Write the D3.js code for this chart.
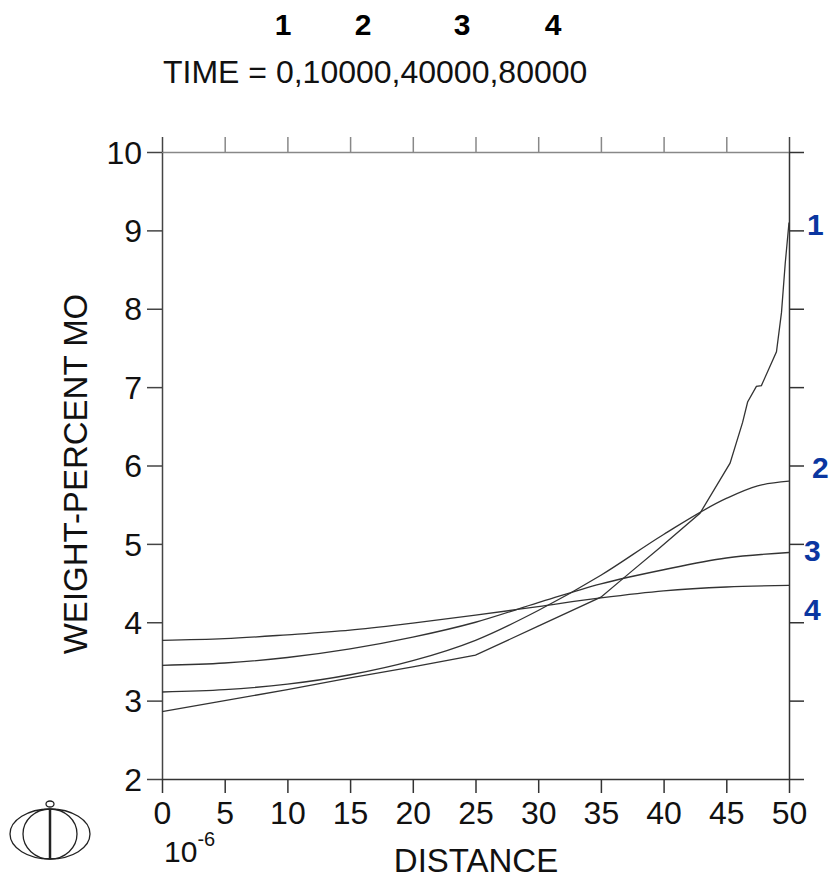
<!DOCTYPE html>
<html>
<head>
<meta charset="utf-8">
<script src="https://cdn.jsdelivr.net/npm/d3@7"></script>
<style>
  html, body { margin: 0; padding: 0; background: #fff; }
  svg { display: block; }
  text { font-family: "Liberation Sans", Arial, sans-serif; }
</style>
</head>
<body>
<svg id="chart" width="835" height="878"></svg>
<script>
// ---- data ----
const titleText = "TIME = 0,10000,40000,80000";
const curveIds = ["1", "2", "3", "4"];
const xTicks = [0, 5, 10, 15, 20, 25, 30, 35, 40, 45, 50];
const yTicks = [2, 3, 4, 5, 6, 7, 8, 9, 10];
const xLabel = "DISTANCE";
const yLabel = "WEIGHT-PERCENT MO";

// curve 1: time 0
const dist1 = [0, 5, 10, 15, 20, 25, 30, 35, 37.3, 39.7, 42.9, 45.3, 46.3, 46.7, 47.4, 47.8, 49.0, 49.4, 49.7, 50];
const conc1 = [2.86, 3.00, 3.14, 3.29, 3.43, 3.58, 3.95, 4.32, 4.63, 4.95, 5.39, 6.03, 6.55, 6.81, 7.01, 7.02, 7.45, 7.95, 8.58, 9.10];
// curve 2: time 10000
const dist2 = [0, 5, 10, 15, 20, 25, 30, 35, 40, 45, 47.5, 50];
const conc2 = [3.11, 3.14, 3.21, 3.33, 3.51, 3.77, 4.15, 4.60, 5.12, 5.58, 5.74, 5.80];
// curve 3: time 40000
const dist3 = [0, 5, 10, 15, 20, 25, 30, 35, 40, 45, 50];
const conc3 = [3.45, 3.48, 3.55, 3.66, 3.81, 4.00, 4.25, 4.49, 4.67, 4.82, 4.89];
// curve 4: time 80000
const dist4 = [0, 5, 10, 15, 20, 25, 30, 35, 40, 45, 50];
const conc4 = [3.77, 3.79, 3.84, 3.90, 3.99, 4.09, 4.20, 4.31, 4.40, 4.45, 4.47];

// ---- drawing ----
const svg = d3.select("#chart");
const x = d3.scaleLinear().domain([0, 50]).range([162, 789]);
const y = d3.scaleLinear().domain([2, 10]).range([779, 152]);
const FONT = "\"Liberation Sans\", Arial, sans-serif";

// top title numbers
const topNumX = [283, 363, 462, 553];
svg.selectAll("text.topnum").data(curveIds).enter().append("text")
  .attr("class", "topnum")
  .attr("x", (d, i) => topNumX[i]).attr("y", 35)
  .attr("text-anchor", "middle")
  .style("font-size", "30px").style("font-weight", "bold").attr("fill", "#000")
  .text(d => d);

svg.append("text")
  .attr("x", 163).attr("y", 83)
  .style("font-size", "32px").attr("fill", "#111")
  .text(titleText);

// axes
function styleAxis(g, color) {
  g.selectAll("path.domain").attr("stroke", color).attr("stroke-width", 1.5);
  g.selectAll(".tick line").attr("stroke", color).attr("stroke-width", 1.5);
}

// top axis (gray, no labels)
const gTop = svg.append("g").attr("transform", `translate(0,${y(10)})`)
  .call(d3.axisTop(x).tickValues(xTicks).tickSize(15).tickSizeOuter(0).tickFormat(""));
styleAxis(gTop, "#888");
gTop.selectAll(".tick line").filter(d => d === 0 || d === 50).attr("stroke", "#444");

// right axis (no labels)
const gRight = svg.append("g").attr("transform", `translate(${x(50)},0)`)
  .call(d3.axisRight(y).tickValues(yTicks).tickSize(15).tickSizeOuter(0).tickFormat(""));
styleAxis(gRight, "#333");

// left axis
const gLeft = svg.append("g").attr("transform", `translate(${x(0)},0)`)
  .call(d3.axisLeft(y).tickValues(yTicks).tickSize(15).tickSizeOuter(0).tickPadding(5).tickFormat(d3.format("d")));
styleAxis(gLeft, "#444");
gLeft.selectAll(".tick text").style("font-size", "32px").style("font-family", FONT)
  .attr("fill", "#111").attr("dy", "0.35em");

// bottom axis
const gBottom = svg.append("g").attr("transform", `translate(0,${y(2)})`)
  .call(d3.axisBottom(x).tickValues(xTicks).tickSize(14).tickSizeOuter(0).tickPadding(8).tickFormat(d3.format("d")));
styleAxis(gBottom, "#333");
gBottom.selectAll(".tick text").style("font-size", "32px").style("font-family", FONT)
  .attr("fill", "#111").attr("dy", "0.71em");

// curves
const series = [
  { id: "1", d: dist1, c: conc1, curve: d3.curveLinear },
  { id: "2", d: dist2, c: conc2, curve: d3.curveMonotoneX },
  { id: "3", d: dist3, c: conc3, curve: d3.curveMonotoneX },
  { id: "4", d: dist4, c: conc4, curve: d3.curveMonotoneX }
];
series.forEach(s => {
  const pts = s.d.map((v, i) => [v, s.c[i]]);
  svg.append("path")
    .attr("d", d3.line().x(p => x(p[0])).y(p => y(p[1])).curve(s.curve)(pts))
    .attr("fill", "none").attr("stroke", "#333").attr("stroke-width", 1.3);
});

// right curve labels (blue)
const labelPos = [[807, 235], [812, 478], [804, 561], [804, 620]];
svg.selectAll("text.rlab").data(curveIds).enter().append("text")
  .attr("class", "rlab")
  .attr("x", (d, i) => labelPos[i][0]).attr("y", (d, i) => labelPos[i][1])
  .style("font-size", "30px").style("font-weight", "bold").attr("fill", "#0a36a0")
  .text(d => d);

// axis titles
svg.append("text")
  .attr("x", 476).attr("y", 872).attr("text-anchor", "middle")
  .style("font-size", "33px").attr("fill", "#111")
  .text(xLabel);

svg.append("text")
  .attr("transform", "translate(87,474) rotate(-90)")
  .attr("text-anchor", "middle")
  .style("font-size", "33px").attr("fill", "#111")
  .text(yLabel);

// 10^-6 multiplier
const mult = svg.append("text").attr("x", 164).attr("y", 862).style("font-size", "30px").attr("fill", "#111");
mult.append("tspan").text("10");
mult.append("tspan").attr("dy", -16).style("font-size", "20px").text("-6");

// logo
const logo = svg.append("g").attr("fill", "none").attr("stroke", "#222").attr("stroke-width", 1.3);
logo.append("ellipse").attr("cx", 50).attr("cy", 834).attr("rx", 40).attr("ry", 25);
logo.append("ellipse").attr("cx", 50).attr("cy", 834).attr("rx", 27).attr("ry", 25);
logo.append("line").attr("x1", 50).attr("x2", 50).attr("y1", 809).attr("y2", 859).attr("stroke-width", 2.5);
logo.append("ellipse").attr("cx", 50).attr("cy", 804).attr("rx", 4).attr("ry", 3);
</script>
</body>
</html>
